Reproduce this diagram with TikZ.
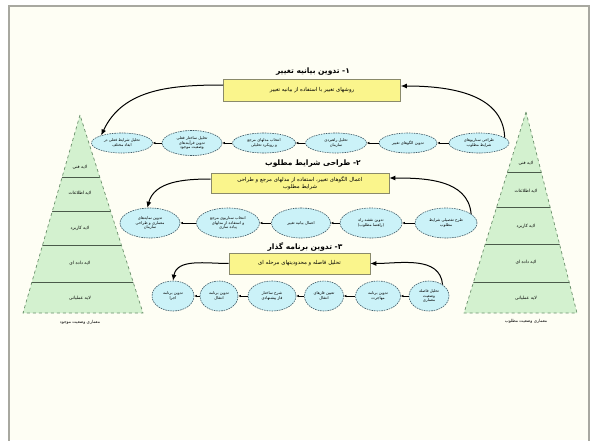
\documentclass[tikz,border=0pt]{standalone}
\usepackage{fontspec}
\usetikzlibrary{shapes.geometric,arrows.meta,calc}
\newfontfamily\arabicfont[Script=Arabic]{DejaVu Sans}
\TeXXeTstate=1
\newcommand{\rl}[1]{\beginR #1\endR}
\definecolor{cream}{HTML}{FEFEF4}
\definecolor{framegray}{HTML}{A8A8A0}
\definecolor{ellfill}{HTML}{CBF2F8}
\definecolor{ellline}{HTML}{3F5A66}
\definecolor{boxfill}{HTML}{FAF58C}
\definecolor{boxline}{HTML}{8A8A6A}
\definecolor{pyrfill}{HTML}{D3F1CF}
\definecolor{pyredge}{HTML}{6A8F6A}
\definecolor{pyrline}{HTML}{4A5A4A}
\begin{document}
\begin{tikzpicture}[x=1pt,y=1pt,
  ell/.style={ellipse, draw=ellline, dash pattern=on 1.6pt off 0.9pt, line width=0.6pt,
    fill=ellfill, inner sep=0pt, align=center, font=\arabicfont\fontsize{3.9}{4.7}\selectfont},
  ybox/.style={rectangle, draw=boxline, line width=0.6pt, fill=boxfill, inner sep=0pt,
    align=center, font=\arabicfont\fontsize{5.4}{7.5}\selectfont},
  ttl/.style={font=\arabicfont\bfseries\fontsize{7.5}{9}\selectfont, inner sep=0pt},
  lay/.style={font=\arabicfont\fontsize{4.4}{5}\selectfont, inner sep=0pt},
  pyrcap/.style={font=\arabicfont\fontsize{4.2}{5}\selectfont, inner sep=0pt},
  smallarr/.style={-{Latex[length=2.6pt,width=2.6pt]}, line width=0.5pt, black},
  bigarr/.style={-{Latex[length=6pt,width=5pt]}, line width=1pt, black},
]
\useasboundingbox (0,0) rectangle (591,440);
\fill[white] (0,0) rectangle (591,440);
\fill[cream] (9,0) rectangle (589,434);
\draw[framegray, line width=1.2pt] (9,-2) -- (9,434) -- (589,434) -- (589,-2);

% ---------- left pyramid ----------
\coordinate (LA) at (80,325);
\coordinate (LB1) at (23,127);
\coordinate (LB2) at (143,127);
\begin{scope}
  \clip (LA) -- (LB1) -- (LB2) -- cycle;
  \fill[pyrfill] (0,100) rectangle (200,340);
  \foreach \yy in {263,229,195,158} \draw[pyrline, line width=0.8pt] (0,\yy) -- (200,\yy);
\end{scope}
\draw[pyredge, line width=0.7pt, dashed] (LA) -- (LB1) -- (LB2) -- cycle;
\node[lay] (L1) at (80,273) {\rl{لایه فنی}};
\node[lay] (L2) at (80,247) {\rl{لایه اطلاعات}};
\node[lay] (L3) at (80,212) {\rl{لایه کاربرد}};
\node[lay] (L4) at (80,177) {\rl{لایه داده ای}};
\node[lay] (L5) at (80,142) {\rl{لایه عملیاتی}};
\node[pyrcap] (LC) at (80,118) {\rl{معماری وضعیت موجود}};

% ---------- right pyramid ----------
\coordinate (RA) at (526,328);
\coordinate (RB1) at (464,127);
\coordinate (RB2) at (577,127);
\begin{scope}
  \clip (RA) -- (RB1) -- (RB2) -- cycle;
  \fill[pyrfill] (440,100) rectangle (600,340);
  \foreach \yy in {268,233,196,158} \draw[pyrline, line width=0.8pt] (440,\yy) -- (600,\yy);
\end{scope}
\draw[pyredge, line width=0.7pt, dashed] (RA) -- (RB1) -- (RB2) -- cycle;
\node[lay] (R1) at (526,277) {\rl{لایه فنی}};
\node[lay] (R2) at (526,249) {\rl{لایه اطلاعات}};
\node[lay] (R3) at (526,214) {\rl{لایه کاربرد}};
\node[lay] (R4) at (526,178) {\rl{لایه داده ای}};
\node[lay] (R5) at (526,142) {\rl{لایه عملیاتی}};
\node[pyrcap] (RC) at (526,119) {\rl{معماری وضعیت مطلوب}};

% ---------- stage 1 ----------
\node[ttl] (T1) at (313,368) {\rl{۱- تدوین بیانیه تغییر}};
\node[ybox, minimum width=177pt, minimum height=22pt] (B1) at (312,350)
  {\rl{روشهای تغییر با استفاده از بیانیه تغییر}};
\node[ell, minimum width=61pt, minimum height=20pt] (E1) at (122,297) {\rl{تحلیل شرایط فعلی در}\\\rl{ابعاد مختلف}};
\node[ell, minimum width=60pt, minimum height=25pt] (E2) at (192,297) {\rl{تحلیل ساختار فعلی}\\\rl{تدوین فرآیندهای}\\\rl{وضعیت موجود}};
\node[ell, minimum width=63pt, minimum height=20pt] (E3) at (264,297) {\rl{انتخاب مدلهای مرجع}\\\rl{و رویکرد تحلیلی}};
\node[ell, minimum width=61pt, minimum height=20pt] (E4) at (336,297) {\rl{تحلیل راهبردی}\\\rl{سازمان}};
\node[ell, minimum width=58pt, minimum height=20pt] (E5) at (408,297) {\rl{تدوین الگوهای تغییر}};
\node[ell, minimum width=60pt, minimum height=20pt] (E6) at (479,297) {\rl{طراحی سناریوهای}\\\rl{شرایط مطلوب}};
\draw[smallarr] (E6) -- (E5);
\draw[smallarr] (E5) -- (E4);
\draw[smallarr] (E4) -- (E3);
\draw[smallarr] (E3) -- (E2);
\draw[smallarr] (E2) -- (E1);
\draw[bigarr] (E6.12) to[out=92,in=0] ($(B1.east)+(0,4)$);
\draw[bigarr] ($(B1.west)+(0,5)$) to[out=180,in=65] (E1.160);

% ---------- stage 2 ----------
\node[ttl] (T2) at (313,276) {\rl{۲- طراحی شرایط مطلوب}};
\node[ybox, minimum width=178pt, minimum height=20pt] (B2) at (300,257)
  {\rl{اعمال الگوهای تغییر، استفاده از مدلهای مرجع و طراحی}\\\rl{شرایط مطلوب}};
\node[ell, minimum width=60pt, minimum height=30pt] (F1) at (150,217) {\rl{تدوین نمایه‌های}\\\rl{معماری و طراحی}\\\rl{سازمان}};
\node[ell, minimum width=63pt, minimum height=30pt] (F2) at (228,217) {\rl{انتخاب سناریوی مرجع}\\\rl{و استفاده از مدلهای}\\\rl{پیاده سازی}};
\node[ell, minimum width=59pt, minimum height=30pt] (F3) at (301,217) {\rl{اعمال بیانیه تغییر}};
\node[ell, minimum width=62pt, minimum height=30pt] (F4) at (371,217) {\rl{تدوین نقشه راه}\\\rl{(راهنما مطلوب)}};
\node[ell, minimum width=62pt, minimum height=30pt] (F5) at (446,217) {\rl{طرح تفصیلی شرایط}\\\rl{مطلوب}};
\draw[smallarr] (F5) -- (F4);
\draw[smallarr] (F4) -- (F3);
\draw[smallarr] (F3) -- (F2);
\draw[smallarr] (F2) -- (F1);
\draw[bigarr] (F5.20) to[out=95,in=0] ($(B2.east)+(0,5)$);
\draw[bigarr] ($(B2.west)+(0,4)$) to[out=180,in=75] (F1.100);

% ---------- stage 3 ----------
\node[ttl] (T3) at (305,193) {\rl{۳- تدوین برنامه گذار}};
\node[ybox, minimum width=141pt, minimum height=21pt] (B3) at (299.5,176.5)
  {\rl{تحلیل فاصله و محدودیتهای مرحله ای}};
\node[ell, minimum width=42pt, minimum height=30pt] (G1) at (173,144) {\rl{تدوین برنامه}\\\rl{اجرا}};
\node[ell, minimum width=38pt, minimum height=30pt] (G2) at (219,144) {\rl{تدوین برنامه}\\\rl{انتقال}};
\node[ell, minimum width=48pt, minimum height=30pt] (G3) at (272,144) {\rl{شرح ساختار}\\\rl{فاز پیشنهادی}};
\node[ell, minimum width=39pt, minimum height=30pt] (G4) at (324,144) {\rl{تعیین فازهای}\\\rl{انتقال}};
\node[ell, minimum width=45pt, minimum height=30pt] (G5) at (378,144) {\rl{تدوین برنامه}\\\rl{مهاجرت}};
\node[ell, minimum width=40pt, minimum height=30pt] (G6) at (429,144) {\rl{تحلیل فاصله}\\\rl{وضعیت}\\\rl{معماری}};
\draw[smallarr] (G6) -- (G5);
\draw[smallarr] (G5) -- (G4);
\draw[smallarr] (G4) -- (G3);
\draw[smallarr] (G3) -- (G2);
\draw[smallarr] (G2) -- (G1);
\draw[bigarr] (G6.40) to[out=95,in=0] (B3.east);
\draw[bigarr] (B3.west) to[out=180,in=80] (G1.north);
\end{tikzpicture}
\end{document}
